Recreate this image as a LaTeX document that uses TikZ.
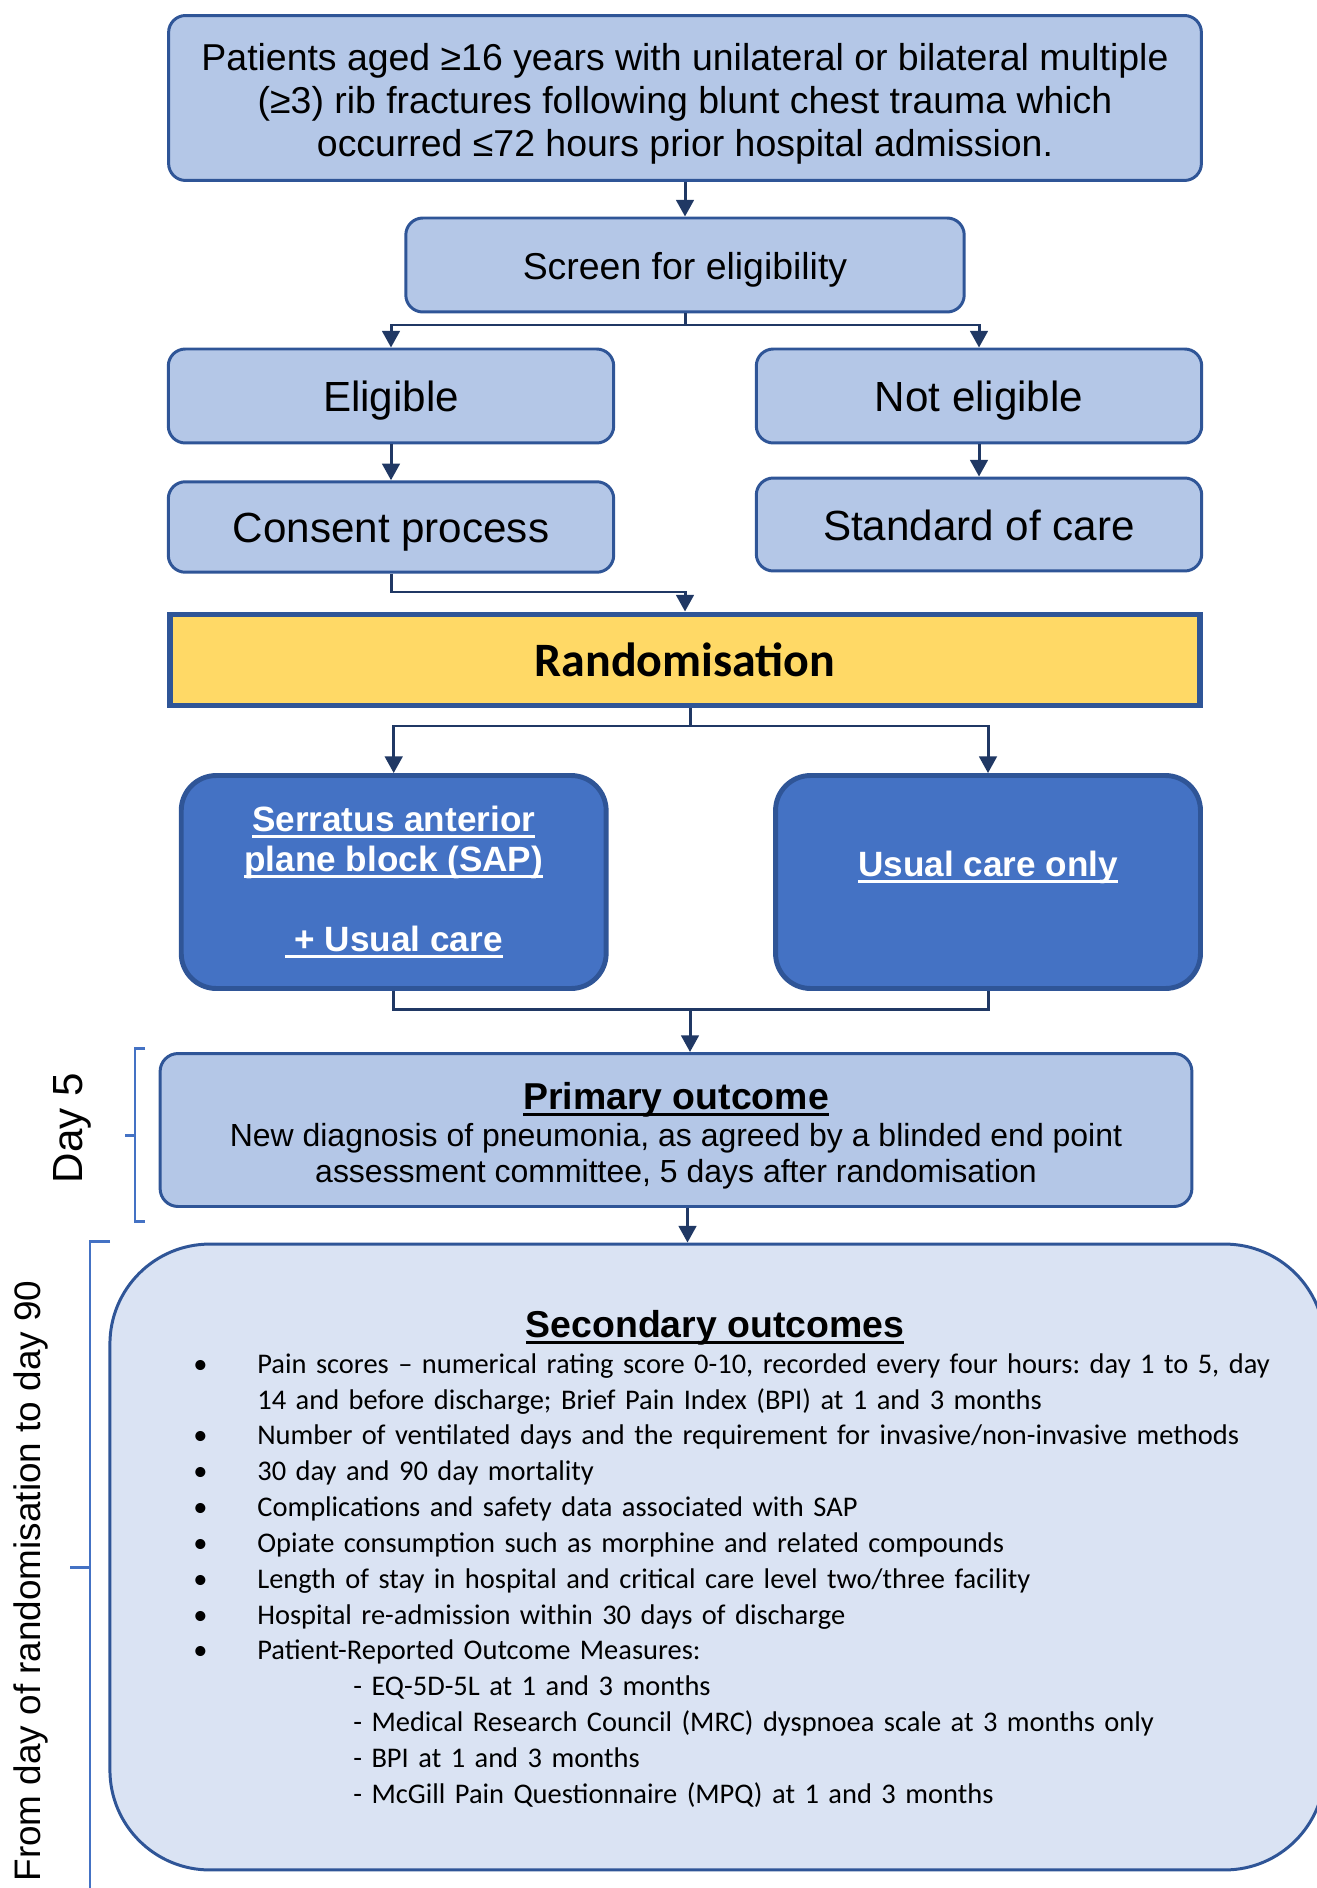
\documentclass[tikz,border=0pt]{standalone}
\usepackage{fontspec}
\setmainfont{Liberation Sans}
\newfontfamily\calibri{Carlito}
\usepackage{tikz}
\usetikzlibrary{arrows.meta}
\usetikzlibrary{calc}
\definecolor{boxblue}{HTML}{B4C7E7}
\definecolor{edgeblue}{HTML}{2F5597}
\definecolor{navy}{HTML}{203864}
\definecolor{midblue}{HTML}{4472C4}
\definecolor{paleblue}{HTML}{DAE3F3}
\definecolor{gold}{HTML}{FFD966}
\tikzset{b/.style={draw=edgeblue, line width=1.7pt, fill=boxblue, rounded corners=0.34cm, align=center, inner sep=0pt}}
\tikzset{big/.style={font=\fontsize{24}{26}\selectfont, text height=22.8pt, text depth=5pt}}
\tikzset{s/.style={b, fill=midblue, line width=2.8pt, rounded corners=0.7cm, text=white, font=\fontsize{20}{22.7}\selectfont\bfseries}}
\tikzset{c/.style={navy, line width=1.7pt}}
\tikzset{a/.style={c, ->}}
\tikzset{brk/.style={midblue, line width=1.7pt}}
\newsavebox\ulbox
\newcommand{\uln}[1]{\sbox\ulbox{#1}\rlap{\rule[-0.17em]{\wd\ulbox}{0.075em}}\usebox\ulbox}
\newcommand{\bul}[1]{\par\noindent\makebox[1.28cm][l]{\textbullet}#1}
\newcommand{\cont}[1]{\par\noindent\hspace*{1.28cm}#1}
\newcommand{\subitm}[1]{\par\noindent\hspace*{3.2cm}- #1}
\newcommand{\lift}[1]{\rule{0pt}{#1}}

\begin{document}
\frenchspacing
\begin{tikzpicture}[x=0.02cm, y=-0.02cm, >={Triangle[length=9.5pt,width=10pt]}]
  \useasboundingbox (0,0) rectangle (1316,1888);
  % screening
  \node (patients) [b, minimum width=20.66cm, minimum height=3.3cm, font=\fontsize{21.3}{24.3}\selectfont] at (685,98)
    {\lift{22pt}Patients aged ≥16 years with unilateral or bilateral multiple\\ (≥3) rib fractures following blunt chest trauma which\\ occurred ≤72 hours prior hospital admission.};
  \node (screen) [b, minimum width=11.17cm, minimum height=1.88cm, font=\fontsize{21.3}{24}\selectfont, text height=20.4pt, text depth=4.4pt] at (685,265) {Screen for eligibility}
    edge [c, <-] (patients);
  \coordinate (split1) at (685,325);
  \node (eligible) [b, big, minimum width=8.91cm, minimum height=1.88cm] at (391,396) {Eligible};
  \node (noteligible) [b, big, minimum width=8.91cm, minimum height=1.88cm] at (979,396) {Not eligible};
  \draw [c] (screen) -- (split1);
  \draw [a] (split1) -| (eligible);
  \draw [a] (split1) -| (noteligible);
  \node (consent) [b, big, minimum width=8.91cm, minimum height=1.81cm] at (391,527) {Consent process}
    edge [c, <-] (eligible);
  \node (standard) [b, big, minimum width=8.91cm, minimum height=1.86cm] at (979,524.5) {Standard of care}
    edge [c, <-] (noteligible);
  % randomisation
  \node (random) [draw=edgeblue, line width=3.4pt, fill=gold, minimum width=20.6cm, minimum height=1.82cm, font=\calibri\fontsize{27.3}{30}\selectfont\bfseries] at (685,660) {Randomisation};
  \coordinate (join1) at (685,592);
  \draw [a] (consent) |- (join1) -- (random);
  \node (sap) [s, minimum width=8.5cm, minimum height=4.26cm] at (393.7,882)
    {\uln{Serratus anterior}\\ \uln{plane block (SAP)}\\[22.7pt] \uln{\ + Usual care}};
  \node (usual) [s, minimum width=8.5cm, minimum height=4.26cm] at (988,882)
    {\lift{17pt}\uln{Usual care only}\\ \mbox{}};
  \coordinate (split2) at (690,726);
  \draw [c] (random.south -| split2) -- (split2);
  \draw [a] (split2) -| (sap);
  \draw [a] (split2) -| (usual);
  % outcomes
  \node (primary) [b, minimum width=20.64cm, minimum height=3.06cm, rounded corners=0.36cm, font=\fontsize{18.2}{20.6}\selectfont] at (676,1130)
    {{\fontsize{21.3}{22}\selectfont\bfseries\lift{22pt}\uln{Primary outcome}}\\
     New diagnosis of pneumonia, as agreed by a blinded end point\\ assessment committee, 5 days after randomisation};
  \coordinate (join2) at (690,1009);
  \draw [c] (sap) |- (join2) -| (usual);
  \draw [a] (join2) -- (join2 |- primary.north);
  \node (secondary) [b, fill=paleblue, rounded corners=2cm, minimum width=24.3cm, minimum height=12.52cm] at (717.3,1557) {};
  \draw [a] (primary.south -| 687.5,0) -- (secondary.north -| 687.5,0);
  \node (sectitle) [font=\fontsize{21.3}{22}\selectfont\bfseries, inner sep=0pt] at (715,1328) {\uln{Secondary outcomes}};
  \node (seclist) [anchor=north west, inner sep=0pt, text width=22cm, font=\calibri\fontsize{16.2}{20.4}\selectfont] at (193,1337)
    {\parskip=0pt
     \bul{Pain scores – numerical rating score 0-10, recorded every four hours: day 1 to 5, day}
     \cont{14 and before discharge; Brief Pain Index (BPI) at 1 and 3 months}
     \bul{Number of ventilated days and the requirement for invasive/non-invasive methods}
     \bul{30 day and 90 day mortality}
     \bul{Complications and safety data associated with SAP}
     \bul{Opiate consumption such as morphine and related compounds}
     \bul{Length of stay in hospital and critical care level two/three facility}
     \bul{Hospital re-admission within 30 days of discharge}
     \bul{Patient-Reported Outcome Measures:}
     \subitm{EQ-5D-5L at 1 and 3 months}
     \subitm{Medical Research Council (MRC) dyspnoea scale at 3 months only}
     \subitm{BPI at 1 and 3 months}
     \subitm{McGill Pain Questionnaire (MPQ) at 1 and 3 months}};
  % time frames
  \draw [brk] (145,1048) -- (135,1048) -- (135,1221) -- (145,1221);
  \draw [brk] (135,1135) -- (125,1135);
  \node (day5) [rotate=90, font=\fontsize{24}{26}\selectfont] at (72,1128) {Day 5};
  \draw [brk] (110,1241) -- (90,1241) -- (90,1900);
  \draw [brk] (90,1567) -- (70,1567);
  \node (day90) [rotate=90, font=\fontsize{21}{24}\selectfont] at (31,1581) {From day of randomisation to day 90};
\end{tikzpicture}
\end{document}
